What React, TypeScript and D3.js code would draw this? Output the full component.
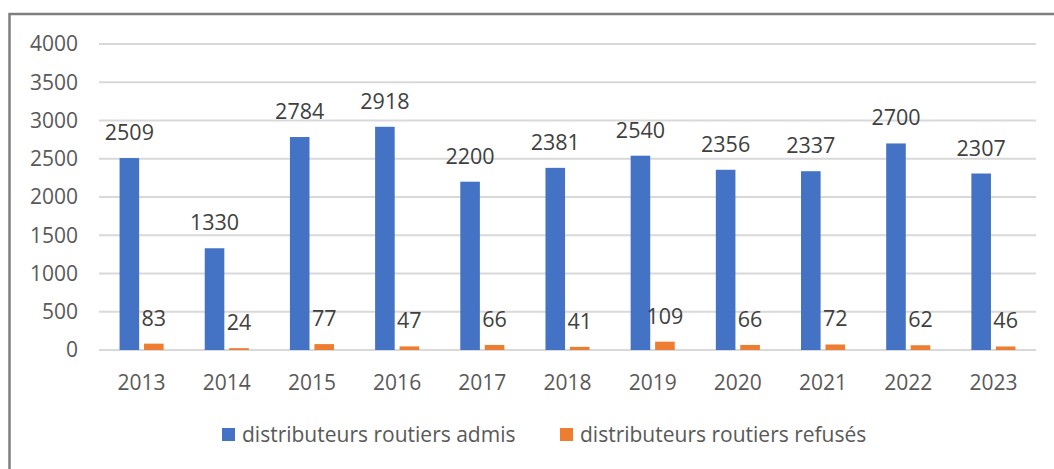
import React from 'react'
import * as d3 from 'd3'

// data
const years = ['2013', '2014', '2015', '2016', '2017', '2018', '2019', '2020', '2021', '2022', '2023']
const admis = [2509, 1330, 2784, 2918, 2200, 2381, 2540, 2356, 2337, 2700, 2307]
const refuses = [83, 24, 77, 47, 66, 41, 109, 66, 72, 62, 46]
const seriesNames = ['distributeurs routiers admis', 'distributeurs routiers refusés']
const seriesColors = ['#4472C4', '#ED7D31']
const yTicks = [0, 500, 1000, 1500, 2000, 2500, 3000, 3500, 4000]

const W = 1054, H = 469
const FONT = '"Open Sans", sans-serif'
const TXT = '#595959'

export default function App() {
  const margin = { top: 44, right: 18, bottom: 119, left: 99 }
  const x0 = d3.scaleBand<string>().domain(years).range([margin.left, W - margin.right])
  const x1 = d3.scaleBand<number>().domain([0, 1]).range([0, x0.bandwidth()]).paddingInner(0.2).paddingOuter(0.84)
  const y = d3.scaleLinear().domain([0, 4000]).range([H - margin.bottom, margin.top])
  const series = [admis, refuses]

  return (
    <svg width={W} height={H} style={{ position: 'absolute', left: 0, top: 0, background: '#fff' }} fontFamily={FONT}>
      <path d={`M9.5,${H} V14 H${W}`} fill="none" stroke="#7f7f7f" strokeWidth={2.5} />
      {/* grid */}
      {yTicks.map(t => (
        <g key={t}>
          <line x1={margin.left} x2={W - margin.right} y1={y(t)} y2={y(t)} stroke="#d9d9d9" strokeWidth={2} />
          <text x={78} y={y(t)} dy="0.35em" textAnchor="end" fontSize={21} fill={TXT}>{t}</text>
        </g>
      ))}
      {/* bars */}
      {series.map((vals, si) => (
        <g key={si}>
          {years.map((yr, i) => {
            const bx = (x0(yr) as number) + (x1(si) as number)
            const bw = x1.bandwidth()
            return (
              <g key={yr}>
                <rect x={bx} y={y(vals[i])} width={bw} height={y(0) - y(vals[i])} fill={seriesColors[si]} />
                <text x={bx + bw / 2} y={y(vals[i]) - 18} textAnchor="middle" fontSize={21.5} fill="#404040">{vals[i]}</text>
              </g>
            )
          })}
        </g>
      ))}
      {/* x labels */}
      {years.map(yr => (
        <text key={yr} x={(x0(yr) as number) + x0.bandwidth() / 2} y={390} textAnchor="middle" fontSize={21} fill={TXT}>{yr}</text>
      ))}
      {/* legend */}
      {seriesNames.map((n, i) => {
        const lx = [222, 560][i]
        return (
          <g key={n}>
            <rect x={lx} y={428} width={13} height={13} fill={seriesColors[i]} />
            <text x={lx + 20} y={435} dy="0.35em" fontSize={21} fill={TXT}>{n}</text>
          </g>
        )
      })}
    </svg>
  )
}
